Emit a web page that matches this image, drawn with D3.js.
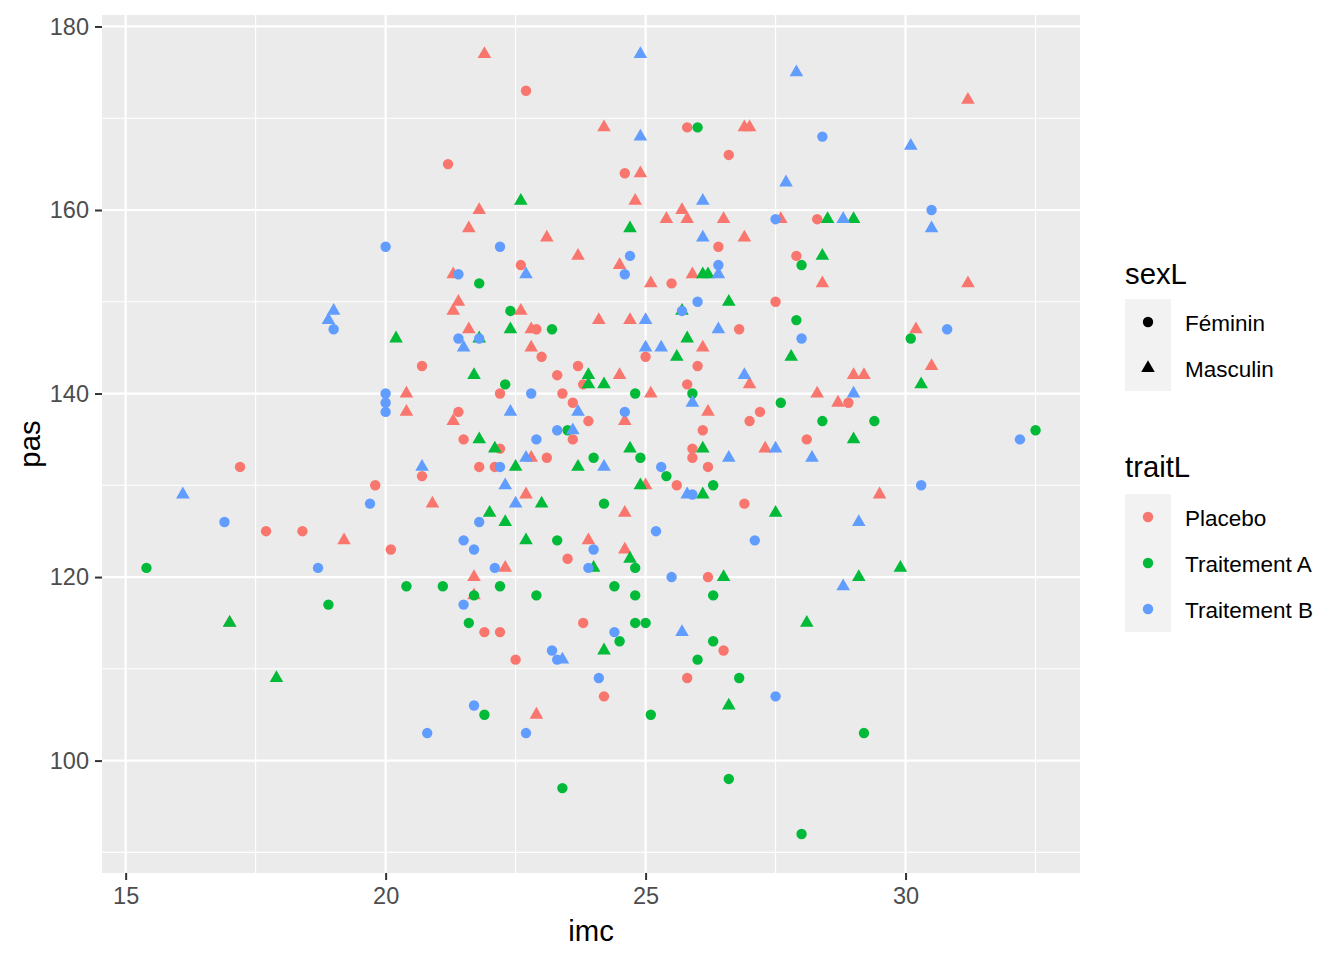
<!DOCTYPE html>
<html>
<head>
<meta charset="utf-8">
<script src="https://cdn.jsdelivr.net/npm/d3@7"></script>
<style>
  body { margin: 0; background: #fff; }
  text { font-family: "Liberation Sans", Arial, sans-serif; }
</style>
</head>
<body>
<div id="chart"></div>
<script>
// imc / pas, one array per traitL x sexL group
const placeboF = [[17.2,132],[17.7,125],[18.4,125],[19.8,130],[20.1,123],[20.7,131],[20.7,143],[21.2,165],[22.7,173],[22.6,154],
  [22.9,147],[23.0,144],[23.7,143],[23.3,142],[23.8,141],[22.2,140],[23.4,140],[23.6,139],[21.4,138],[23.9,137],[21.5,135],[23.6,135],
  [22.2,134],[23.1,133],[21.8,132],[22.1,132],[23.5,122],[23.8,115],[21.9,114],[22.2,114],[22.5,111],[24.2,107],[25.8,169],[26.6,166],
  [24.6,164],[26.4,156],[25.5,152],[27.5,150],[26.8,147],[25.0,144],[26.0,143],[25.8,141],[27.2,138],[27.0,137],[26.1,136],[25.9,134],
  [25.9,133],[26.2,132],[25.6,130],[26.9,128],[26.2,120],[26.5,112],[25.8,109],[28.3,159],[27.9,155],[28.9,139],[28.1,135]];
const placeboM = [[17.0,115],[19.2,124],[20.4,140],[20.4,138],[20.9,128],[21.9,177],[21.8,160],[21.6,158],[23.1,157],[21.3,153],
  [21.4,150],[21.3,149],[22.6,149],[24.1,148],[21.6,147],[22.8,147],[22.8,145],[21.3,137],[22.8,133],[22.7,129],[23.9,124],[22.3,121],
  [21.7,120],[21.7,118],[22.9,105],[24.2,169],[24.9,164],[24.8,161],[25.7,160],[25.4,159],[25.8,159],[26.5,159],[23.7,155],[24.5,154],
  [25.9,153],[25.1,152],[24.7,148],[26.1,145],[24.5,142],[27.0,141],[25.1,140],[24.6,137],[26.2,138],[27.3,134],[25.0,130],[24.6,127],
  [24.6,123],[26.9,169],[27.0,169],[27.6,159],[26.9,157],[28.4,152],[30.2,147],[30.5,143],[29.0,142],[29.2,142],[28.3,140],[28.7,139],
  [29.5,129],[31.2,172],[31.2,152]];
const traitAF = [[15.4,121],[18.9,117],[20.4,119],[21.1,119],[21.8,152],[22.4,149],[23.2,147],[22.3,141],[23.5,136],[24.0,133],
  [24.2,128],[23.3,124],[22.2,119],[21.7,118],[22.9,118],[21.6,115],[21.9,105],[25.1,105],[29.2,103],[23.4,97],[26.6,98],[28.0,92],
  [26.0,169],[24.8,140],[25.9,140],[24.9,133],[25.4,131],[26.3,130],[24.8,121],[24.4,119],[24.8,118],[26.3,118],[24.8,115],[25.0,115],
  [24.5,113],[26.3,113],[26.0,111],[26.8,109],[28.0,154],[27.9,148],[30.1,146],[27.6,139],[28.4,137],[29.4,137],[32.5,136]];
const traitAM = [[17.0,115],[17.9,109],[20.2,146],[22.6,161],[22.4,147],[21.8,146],[23.9,142],[21.7,142],[23.9,141],[24.2,141],
  [21.8,135],[22.1,134],[22.5,132],[23.7,132],[23.0,128],[22.0,127],[22.3,126],[22.7,124],[24.0,121],[24.2,112],[26.6,106],[24.7,158],
  [26.1,153],[26.2,153],[26.6,150],[25.7,149],[25.8,146],[25.6,144],[24.7,134],[26.1,134],[24.9,130],[26.1,129],[24.7,122],[26.5,120],
  [27.5,127],[28.5,159],[29.0,159],[28.4,155],[27.8,144],[30.3,141],[29.0,135],[29.9,121],[29.1,120],[28.1,115]];
const traitBF = [[16.9,126],[18.7,121],[19.0,147],[19.7,128],[20.0,156],[20.0,140],[20.0,139],[20.0,138],[20.8,103],[22.2,156],
  [21.4,153],[21.4,146],[21.8,146],[22.8,140],[23.3,136],[22.9,135],[22.2,132],[21.8,126],[21.5,124],[21.7,123],[24.0,123],[22.1,121],
  [23.9,121],[21.5,117],[23.2,112],[23.3,111],[24.1,109],[21.7,106],[22.7,103],[24.7,155],[26.4,154],[24.6,153],[26.0,150],[25.7,149],
  [24.6,138],[25.3,132],[25.9,129],[25.2,125],[27.1,124],[25.5,120],[24.4,114],[27.5,107],[28.4,168],[30.5,160],[27.5,159],[28.0,146],
  [30.8,147],[32.2,135],[30.3,130]];
const traitBM = [[16.1,129],[18.9,148],[19.0,149],[20.7,132],[22.7,153],[21.5,145],[22.4,138],[23.7,138],[23.6,136],[22.7,133],
  [24.2,132],[22.3,130],[22.5,128],[23.4,111],[24.9,168],[24.9,177],[26.1,161],[26.1,157],[26.4,153],[25.0,148],[26.4,147],[25.0,145],
  [25.3,145],[26.9,142],[25.9,139],[26.6,133],[27.5,134],[25.8,129],[25.7,114],[27.7,163],[27.9,175],[30.1,167],[30.5,158],[28.8,159],
  [29.0,140],[28.2,133],[29.1,126],[28.8,119]];

const sexLevels = ["Féminin", "Masculin"];
const traitLevels = ["Placebo", "Traitement A", "Traitement B"];
const traitColors = ["#F8766D", "#00BA38", "#619CFF"];
const xTicks = [15, 20, 25, 30];
const yTicks = [100, 120, 140, 160, 180];

const groups = [
  [placeboF, "Placebo", "Féminin"], [placeboM, "Placebo", "Masculin"],
  [traitAF, "Traitement A", "Féminin"], [traitAM, "Traitement A", "Masculin"],
  [traitBF, "Traitement B", "Féminin"], [traitBM, "Traitement B", "Masculin"]
];
let data = [];
groups.forEach(g => g[0].forEach(p => data.push({imc: p[0], pas: p[1], trait: g[1], sex: g[2]})));

const width = 1344, height = 960;
let panel = {left: 102, right: 1080, top: 15, bottom: 873};

const svg = d3.select("#chart").append("svg")
    .attr("width", width)
    .attr("height", height);

// ggplot-style 5% expansion of the data range
let xext = d3.extent(data, d => d.imc), yext = d3.extent(data, d => d.pas);
let xpad = (xext[1] - xext[0]) * 0.05, ypad = (yext[1] - yext[0]) * 0.05;

let x = d3.scaleLinear().domain([xext[0] - xpad, xext[1] + xpad]).range([panel.left, panel.right]);
let y = d3.scaleLinear().domain([yext[0] - ypad, yext[1] + ypad]).range([panel.bottom, panel.top]);
let color = d3.scaleOrdinal().domain(traitLevels).range(traitColors);

svg.append("rect")
  .attr("x", panel.left).attr("y", panel.top)
  .attr("width", panel.right - panel.left).attr("height", panel.bottom - panel.top)
  .attr("fill", "#EBEBEB");

// minor grid
let xMinor = [17.5, 22.5, 27.5, 32.5];
let yMinor = [90, 110, 130, 150, 170];
svg.append("g").selectAll("line").data(xMinor).enter().append("line")
  .attr("x1", d => x(d)).attr("x2", d => x(d))
  .attr("y1", panel.top).attr("y2", panel.bottom)
  .attr("stroke", "#fff").attr("stroke-width", 1.1);
svg.append("g").selectAll("line").data(yMinor).enter().append("line")
  .attr("y1", d => y(d)).attr("y2", d => y(d))
  .attr("x1", panel.left).attr("x2", panel.right)
  .attr("stroke", "#fff").attr("stroke-width", 1.1);
// major grid
svg.append("g").selectAll("line").data(xTicks).enter().append("line")
  .attr("x1", d => x(d)).attr("x2", d => x(d))
  .attr("y1", panel.top).attr("y2", panel.bottom)
  .attr("stroke", "#fff").attr("stroke-width", 2.2);
svg.append("g").selectAll("line").data(yTicks).enter().append("line")
  .attr("y1", d => y(d)).attr("y2", d => y(d))
  .attr("x1", panel.left).attr("x2", panel.right)
  .attr("stroke", "#fff").attr("stroke-width", 2.2);

let tri = d3.symbol().type(d3.symbolTriangle).size(80);
let pts = svg.append("g");
data.forEach(d => {
  if (d.sex === "Féminin") {
    pts.append("circle")
      .attr("cx", x(d.imc)).attr("cy", y(d.pas)).attr("r", 5.2)
      .attr("fill", color(d.trait));
  } else {
    pts.append("path")
      .attr("d", tri())
      .attr("transform", `translate(${x(d.imc)},${y(d.pas)})`)
      .attr("fill", color(d.trait));
  }
});

// axes
let xAxis = g => g
  .attr("transform", `translate(0,${panel.bottom})`)
  .call(d3.axisBottom(x).tickValues(xTicks).tickSize(7).tickPadding(7))
  .call(g => g.select(".domain").remove())
  .call(g => g.selectAll("line").attr("stroke", "#333").attr("stroke-width", 2))
  .call(g => g.selectAll("text").attr("fill", "#4D4D4D").style("font-size", "23.5px")
    .style("font-family", "'Liberation Sans', Arial, sans-serif"));
let yAxis = g => g
  .attr("transform", `translate(${panel.left},0)`)
  .call(d3.axisLeft(y).tickValues(yTicks).tickSize(7).tickPadding(6))
  .call(g => g.select(".domain").remove())
  .call(g => g.selectAll("line").attr("stroke", "#333").attr("stroke-width", 2))
  .call(g => g.selectAll("text").attr("fill", "#4D4D4D").style("font-size", "23.5px")
    .style("font-family", "'Liberation Sans', Arial, sans-serif"));
svg.append("g").call(xAxis);
svg.append("g").call(yAxis);

svg.append("text")
  .attr("x", (panel.left + panel.right) / 2).attr("y", 941)
  .attr("text-anchor", "middle")
  .style("font-size", "29.3px")
  .text("imc");
svg.append("text")
  .attr("transform", `translate(40,${(panel.top + panel.bottom) / 2}) rotate(-90)`)
  .attr("text-anchor", "middle")
  .style("font-size", "29.3px")
  .text("pas");

// legends
let keyX = 1125, keyW = 46, keyH = 46;
let leg1 = svg.append("g");
leg1.append("text").attr("x", keyX).attr("y", 284).style("font-size", "29.3px").text("sexL");
sexLevels.forEach((s, i) => {
  let cy = 299 + i * keyH;
  leg1.append("rect").attr("x", keyX).attr("y", cy).attr("width", keyW).attr("height", keyH).attr("fill", "#F2F2F2");
  if (i === 0) {
    leg1.append("circle").attr("cx", keyX + keyW / 2).attr("cy", cy + keyH / 2).attr("r", 5.2).attr("fill", "#000");
  } else {
    leg1.append("path").attr("d", tri()).attr("transform", `translate(${keyX + keyW / 2},${cy + keyH / 2})`).attr("fill", "#000");
  }
  leg1.append("text").attr("x", 1185).attr("y", cy + keyH / 2 + 8.5).style("font-size", "22.5px").text(s);
});

let leg2 = svg.append("g");
leg2.append("text").attr("x", keyX).attr("y", 477).style("font-size", "29.3px").text("traitL");
traitLevels.forEach((t, i) => {
  let cy = 494 + i * keyH;
  leg2.append("rect").attr("x", keyX).attr("y", cy).attr("width", keyW).attr("height", keyH).attr("fill", "#F2F2F2");
  leg2.append("circle").attr("cx", keyX + keyW / 2).attr("cy", cy + keyH / 2).attr("r", 5.2).attr("fill", color(t));
  leg2.append("text").attr("x", 1185).attr("y", cy + keyH / 2 + 8.5).style("font-size", "22.5px").text(t);
});
</script>
</body>
</html>
